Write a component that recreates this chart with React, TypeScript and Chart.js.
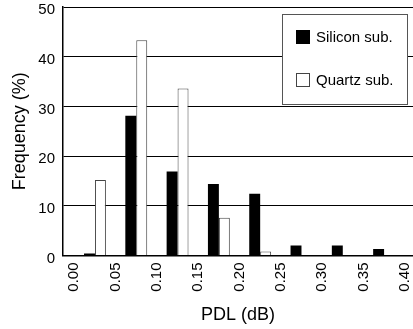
import React, { useEffect, useRef } from "react";
import { Chart, registerables } from "chart.js";

Chart.register(...registerables);

// Histogram bins of PDL (dB); each bar sits at its bin centre
const binCenters = [0.025, 0.075, 0.125, 0.175, 0.225, 0.275, 0.325, 0.375];
const siliconValues = [0.4, 28.1, 16.9, 14.4, 12.4, 2.0, 2.0, 1.3];
const quartzValues = [15.2, 43.3, 33.6, 7.6, 0.8, 0, 0, 0];
const seriesLabels = ["Silicon sub.", "Quartz sub."];
const xTicks = [0, 0.05, 0.1, 0.15, 0.2, 0.25, 0.3, 0.35, 0.4];
const yTicks = [0, 10, 20, 30, 40, 50];

const FONT = "'Liberation Sans', Arial, Helvetica, sans-serif";

// Boxed legend drawn inside the plot area, upper right
const boxLegend = {
  id: "boxLegend",
  afterDraw(chart: any) {
    const ctx = chart.ctx;
    const x = 282;
    const y = 14;
    const w = 125;
    const h = 90;
    ctx.save();
    ctx.fillStyle = "#ffffff";
    ctx.fillRect(x, y, w, h);
    ctx.strokeStyle = "#555555";
    ctx.lineWidth = 1;
    ctx.strokeRect(x + 0.5, y + 0.5, w, h);
    ctx.font = `15px ${FONT}`;
    ctx.textBaseline = "middle";
    ctx.textAlign = "left";
    chart.data.datasets.forEach((ds: any, i: number) => {
      const sy = 30 + i * 43;
      ctx.fillStyle = ds.backgroundColor;
      ctx.fillRect(296, sy, 14, 14);
      if (ds.borderWidth) {
        ctx.strokeStyle = ds.borderColor;
        ctx.lineWidth = 1;
        ctx.strokeRect(296.5, sy + 0.5, 13, 13);
      }
      ctx.fillStyle = "#000000";
      ctx.fillText(ds.label, 316, sy + 7.5);
    });
    ctx.restore();
  },
};

export default function App() {
  const canvasRef = useRef<HTMLCanvasElement | null>(null);

  useEffect(() => {
    if (!canvasRef.current) return;
    const chart = new Chart(canvasRef.current, {
      type: "bar",
      data: {
        datasets: [
          {
            label: seriesLabels[0],
            data: binCenters.map((x, i) => ({ x, y: siliconValues[i] })),
            backgroundColor: "#000000",
            borderWidth: 0,
          },
          {
            label: seriesLabels[1],
            data: binCenters.map((x, i) => ({ x, y: quartzValues[i] })),
            backgroundColor: "#ffffff",
            borderColor: "#444444",
            borderWidth: 1,
          },
        ],
      },
      options: {
        responsive: false,
        animation: false,
        events: [],
        layout: { padding: { top: 7, left: 0, right: 0, bottom: 0 } },
        datasets: {
          bar: { categoryPercentage: 0.53, barPercentage: 1.0 },
        },
        plugins: {
          legend: { display: false },
          tooltip: { enabled: false },
        },
        scales: {
          x: {
            type: "linear",
            offset: false,
            min: -0.0137,
            max: 0.41,
            afterBuildTicks(scale: any) {
              scale.ticks = xTicks.map((v) => ({ value: v }));
            },
            afterFit(scale: any) {
              scale.height = 73.5;
              scale.paddingLeft = 0;
              scale.paddingRight = 0;
            },
            grid: { display: false, drawTicks: false },
            border: { display: true, color: "#000000", width: 1.5 },
            ticks: {
              minRotation: 90,
              maxRotation: 90,
              padding: 7,
              color: "#000000",
              font: { family: FONT, size: 15 },
              callback: (v: any) => Number(v).toFixed(2),
            },
            title: {
              display: true,
              text: "PDL (dB)",
              color: "#000000",
              font: { family: FONT, size: 18 },
              padding: { top: 0, bottom: 3 },
            },
          },
          y: {
            min: 0,
            max: 50,
            afterBuildTicks(scale: any) {
              scale.ticks = yTicks.map((v) => ({ value: v }));
            },
            afterFit(scale: any) {
              scale.width = 63;
              scale.paddingTop = 0;
              scale.paddingBottom = 0;
            },
            grid: { color: "#000000", lineWidth: 1, drawTicks: false },
            border: { display: true, color: "#000000", width: 1.5 },
            ticks: {
              padding: 8,
              labelOffset: 3,
              color: "#000000",
              font: { family: FONT, size: 15 },
            },
            title: {
              display: true,
              text: "Frequency (%)",
              color: "#000000",
              font: { family: FONT, size: 18 },
              padding: { top: 9, bottom: 0 },
            },
          },
        },
      },
      plugins: [boxLegend],
    } as any);
    return () => chart.destroy();
  }, []);

  return (
    <div style={{ position: "absolute", left: 0, top: 0, width: 413, height: 329, background: "#ffffff" }}>
      <canvas ref={canvasRef} width={413} height={329} style={{ display: "block" }} />
    </div>
  );
}
